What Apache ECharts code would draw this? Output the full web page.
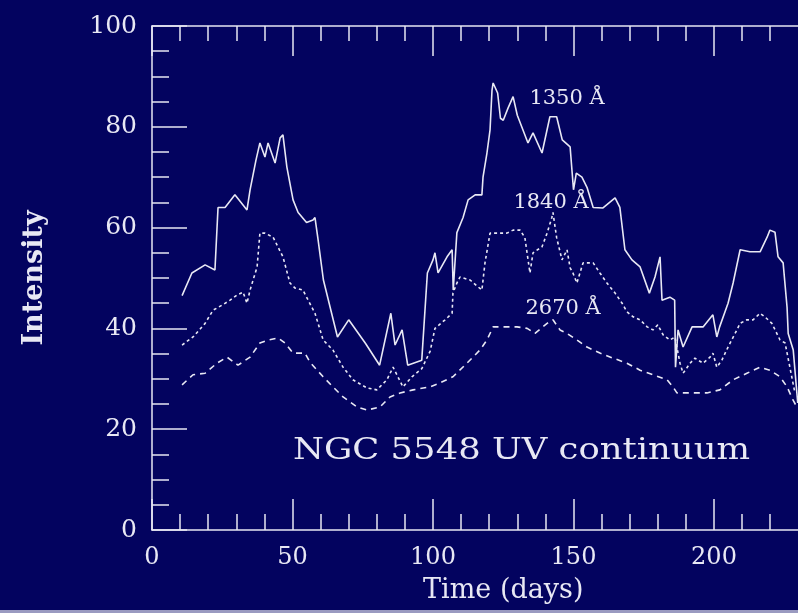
<!DOCTYPE html>
<html>
<head>
<meta charset="utf-8">
<script src="https://cdn.jsdelivr.net/npm/echarts@6/dist/echarts.min.js"></script>
<style>
  html, body { margin: 0; padding: 0; background: #03035f; }
  #chart { width: 798px; height: 613px; }
</style>
</head>
<body>
<div id="chart"></div>
<script>
// Time (days) and intensity for each wavelength
const days1350 = [10.7,14.2,18.9,22.4,23.5,26,29.5,33.8,34.9,37,38.4,40.2,41.3,43.8,45.6,46.6,48,50.2,52,55,57.3,58,59,61,66,70,76,81,85,86.5,89,91,96,98,100,100.7,101.8,105,106.8,107.2,108.5,110.7,112.5,115,117.4,117.8,119.2,120.3,121,121.4,123,124,125,126.7,128.5,130,133.8,135.6,138.8,141.6,144,146,148.8,150,151,153,154.8,157,160.5,164.8,166.5,168.3,170.8,173.7,177,179,180.8,181.5,184.3,186,186.3,187.2,189,192.2,196.1,199.6,201,202,205,206.8,209.3,212.8,216.4,218.9,219.9,221.7,222.8,224.6,226,226.4,228.2,229.8];
const int1350  = [46.5,51,52.6,51.6,64,64,66.5,63.5,67.5,73.4,76.8,74,76.8,72.8,77.8,78.4,72,65.5,63,61,61.5,62,58,49.6,38.3,41.7,37,32.7,43,36.7,39.7,32.7,33.7,51,53.6,55,51,54.2,55.6,47.6,59,62,65.5,66.5,66.5,70,74.8,79.4,87.3,88.7,86.7,81.7,81.3,83.7,86,82.3,76.8,78.8,74.8,82,82,77.4,76,67.5,70.8,70,68,64,63.9,65.9,64,55.6,53.6,52.2,47,50.2,54.2,45.6,46.2,45.6,32.3,39.7,36.3,40.3,40.3,42.7,38.3,40.3,45,49,55.6,55.2,55.2,58.1,59.5,59.1,54.2,53,44.2,39,35.7,25.2];

const days1840 = [10.7,14.6,18.9,21.7,24.9,27.8,30.2,32.4,33.8,34.9,37.4,38.4,40.2,43.1,44.8,46.6,49.1,50.9,53.7,58,60.9,64.4,68,71.5,76.5,80,83.6,85.8,89.3,92.5,96,99,100.7,104.3,106.8,107.1,108.5,109.6,113.2,117.4,118.5,120.3,122.8,126.3,128.5,131,132.7,134.5,135.6,138.8,140.6,142.3,142.7,144,145.9,147.7,148.8,149.8,151.2,153.4,157,159.4,161.9,164.8,167.3,169,171.2,173.7,176.2,178.3,180,181.9,184.3,186.1,187.9,189,191.5,193.2,196.1,198.6,199.6,201,202.8,205,207.5,209.3,211.7,213.9,216.4,218.1,220.6,223.5,225.3,227,228.8];
const int1840  = [36.7,38.3,41,43.6,44.6,45.6,46.6,47.2,45,47.6,52.2,58.9,58.9,58.1,56.2,54.2,49,48,47.6,43,37.7,35.7,32.3,29.8,28.2,27.8,29.8,32.3,28.4,30.4,32,35.5,40,41.7,43,47,49,50.2,49.6,47.6,53,58.9,58.9,58.9,59.5,59.5,58,51,55,56.2,58.9,62,63,58,53.6,55.6,52,51,49,53,53,51,49,47,45,43.3,42.3,41.7,40.3,39.7,40.7,38.7,37.7,38.3,33.1,31.1,33.1,34.1,33.1,34.3,35.1,32.3,33.7,36.3,39,41,41.7,41.7,43,42.3,41,37.7,37.1,32.3,27.2];

const days2670 = [10.7,14.6,18.9,23.1,26.7,30.6,34.9,38.4,41.3,44.8,47.3,50.2,54.4,56.2,60.9,64.4,68,73,76.5,81.1,84.7,88.3,92.9,98.9,102.5,107.1,112.1,116.7,119.2,121.4,124.9,129.9,133.5,136.3,140.6,142.7,145.2,147.7,151.2,154.8,159.4,164.1,169,173.7,178.3,183.3,185.4,186.8,191.5,197.5,202.1,206.8,211.7,216.4,219.9,223.5,226,228.1,229.5];
const int2670  = [28.8,30.8,31.1,33.1,34.3,32.7,34.3,37.1,37.7,38.1,37.1,35.1,35.1,33.3,30.4,28.4,26.4,24.4,23.8,24.4,26.4,27.2,27.8,28.4,29.2,30.4,33.1,35.7,37.7,40.3,40.3,40.3,40,39,41,41.7,39.7,39,37.7,36.3,35.1,34.1,33.1,31.7,30.8,29.8,28.4,27.2,27.2,27.2,27.8,29.8,31.1,32.3,31.7,30.4,28.4,25.8,24.4];

const xTicks = [0, 50, 100, 150, 200];
const yTicks = [0, 20, 40, 60, 80, 100];
const seriesNames = ['1350 Å', '1840 Å', '2670 Å'];
const annotation = 'NGC 5548 UV continuum';

function zip(a, b) { return a.map((t, i) => [t, b[i]]); }

const FG = '#e8e8f4';
const FONT = 'DejaVu Serif';

function seriesLabel(text, coord) {
  return {
    symbol: 'circle', symbolSize: 0, silent: true,
    itemStyle: { color: 'rgba(0,0,0,0)' },
    data: [{ coord: coord, value: text }],
    label: { show: true, position: 'inside', formatter: text, color: FG, fontFamily: FONT, fontSize: 21 }
  };
}

const chart = echarts.init(document.getElementById('chart'));
const axisBase = {
  type: 'value', min: 0,
  axisLine: { show: true, lineStyle: { color: FG, width: 1.5 } },
  splitLine: { show: false },
};
chart.setOption({
  backgroundColor: '#03035f',
  animation: false,
  grid: { left: 152, top: 26, width: 702.5, height: 504, outerBoundsMode: 'none', containLabel: false },
  xAxis: [
    Object.assign({}, axisBase, {
      max: 250, interval: 50, position: 'bottom',
      name: 'Time (days)', nameLocation: 'middle', nameGap: 47,
      nameTextStyle: { color: FG, fontFamily: FONT, fontSize: 27 },
      axisTick: { show: true, inside: true, length: 31, lineStyle: { color: FG, width: 1.5 } },
      minorTick: { show: true, splitNumber: 5, length: 16, lineStyle: { color: FG, width: 1.5 } },
      axisLabel: { color: FG, fontFamily: FONT, fontSize: 24, margin: 16,
        formatter: v => xTicks.includes(v) ? String(v) : '' }
    }),
    Object.assign({}, axisBase, {
      max: 250, interval: 50, position: 'top',
      axisTick: { show: true, inside: true, length: 30, lineStyle: { color: FG, width: 1.5 } },
      minorTick: { show: true, splitNumber: 5, length: 15, lineStyle: { color: FG, width: 1.5 } },
      axisLabel: { show: false }
    })
  ],
  yAxis: [
    Object.assign({}, axisBase, {
      max: 100, interval: 20,
      name: 'Intensity', nameLocation: 'middle', nameRotate: 90, nameGap: 104,
      nameTextStyle: { color: FG, fontFamily: FONT, fontSize: 27, fontWeight: 'bold' },
      axisTick: { show: true, inside: true, length: 35, lineStyle: { color: FG, width: 1.5 } },
      minorTick: { show: true, splitNumber: 4, length: 17, lineStyle: { color: FG, width: 1.5 } },
      axisLabel: { color: FG, fontFamily: FONT, fontSize: 25, margin: 15,
        formatter: v => yTicks.includes(v) ? String(v) : '' }
    })
  ],
  graphic: [
    { type: 'text', x: 293, y: 436, scaleX: 1.18, style: { text: annotation, fill: FG, font: '30px "DejaVu Serif"' } },
    { type: 'rect', left: 0, top: 610, shape: { width: 798, height: 3 }, style: { fill: '#9a9ac0' } }
  ],
  series: [
    { name: seriesNames[0], type: 'line', data: zip(days1350, int1350), showSymbol: false,
      lineStyle: { color: FG, width: 1.6, type: 'solid' },
      markPoint: seriesLabel(seriesNames[0], [147.7, 85.7]) },
    { name: seriesNames[1], type: 'line', data: zip(days1840, int1840), showSymbol: false,
      lineStyle: { color: FG, width: 1.6, type: [3, 3] },
      markPoint: seriesLabel(seriesNames[1], [142, 65]) },
    { name: seriesNames[2], type: 'line', data: zip(days2670, int2670), showSymbol: false,
      lineStyle: { color: FG, width: 1.6, type: [6, 5] },
      markPoint: seriesLabel(seriesNames[2], [146.3, 44]) }
  ]
});
</script>
</body>
</html>
